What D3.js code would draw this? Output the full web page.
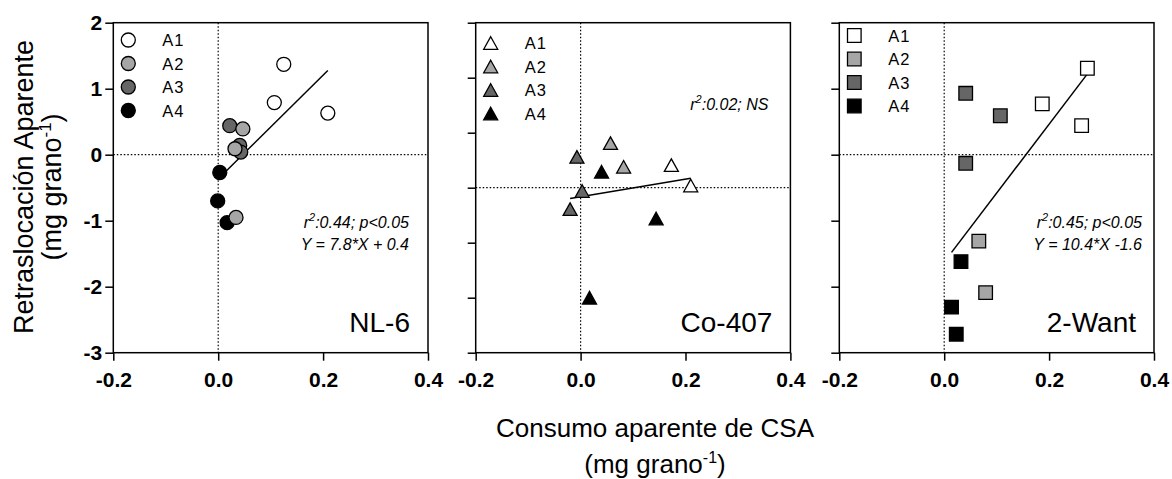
<!DOCTYPE html>
<html>
<head>
<meta charset="utf-8">
<script src="https://cdn.jsdelivr.net/npm/d3@7"></script>
<style>
  body { margin: 0; background: #fff; }
  text { font-family: "Liberation Sans", Arial, Helvetica, sans-serif; fill: #000; }
</style>
</head>
<body>
<svg id="chart" width="1172" height="479"></svg>
<script>
// ---- data -------------------------------------------------------------
const groups = ["A1", "A2", "A3", "A4"];
const panelNames = ["NL-6", "Co-407", "2-Want"];

const xTicks = [-0.2, 0.0, 0.2, 0.4];
const yTicks = [2, 1, 0, -1, -2, -3];
const co407YTicks = [3, 2, 1, 0, -1, -2, -3];

// NL-6
const nl6Group = ["A1", "A1", "A1", "A2", "A2", "A2", "A3", "A3", "A3", "A4", "A4", "A4"];
const nl6X = [0.125, 0.107, 0.209, 0.047, 0.032, 0.034, 0.022, 0.041, 0.043, 0.003, -0.001, 0.017];
const nl6Y = [1.37, 0.79, 0.63, 0.39, 0.09, -0.95, 0.44, 0.14, 0.04, -0.27, -0.70, -1.03];

// Co-407
const co407Group = ["A1", "A1", "A2", "A2", "A3", "A3", "A3", "A4", "A4", "A4"];
const co407X = [0.173, 0.210, 0.057, 0.082, -0.007, 0.003, -0.020, 0.040, 0.144, 0.017];
const co407Y = [0.41, 0.04, 0.81, 0.38, 0.56, -0.06, -0.39, 0.29, -0.56, -2.00];

// 2-Want
const want2Group = ["A1", "A1", "A1", "A2", "A2", "A3", "A3", "A3", "A4", "A4", "A4"];
const want2X = [0.273, 0.187, 0.262, 0.066, 0.079, 0.041, 0.107, 0.041, 0.032, 0.014, 0.023];
const want2Y = [1.31, 0.77, 0.44, -1.31, -2.09, 0.93, 0.59, -0.13, -1.62, -2.31, -2.72];

// regression statistics printed in each panel
const statR2 = [":0.44; p<0.05", ":0.02; NS", ":0.45; p<0.05"];
const statEq = ["Y = 7.8*X + 0.4", "", "Y = 10.4*X -1.6"];

// ---- styling / layout -------------------------------------------------
const groupFill = { A1: "#ffffff", A2: "#a6a6a6", A3: "#666666", A4: "#000000" };
const markerPath = {
  circle: d3.symbol(d3.symbolCircle, Math.PI * 49)(),
  triangle: "M0,-6.3L7,6.3L-7,6.3Z",
  square: "M-6.8,-6.8H6.8V6.8H-6.8Z"
};

const frameTop = 22.7, frameBottom = 352.7, frameWidth = 314.7;
const panelLayout = [
  { left: 113.3, shape: "circle",   yDomain: [-3, 2], yTicks: yTicks, labels: true,
    legendTop: 40, statRight: 19, statY: 228, group: nl6Group, xs: nl6X, ys: nl6Y },
  { left: 475.7, shape: "triangle", yDomain: [-3, 3], yTicks: co407YTicks, labels: false,
    legendTop: 43, statRight: 22, statY: 110, group: co407Group, xs: co407X, ys: co407Y },
  { left: 839.3, shape: "square",   yDomain: [-3, 2], yTicks: yTicks, labels: false,
    legendTop: 35.5, statRight: 12, statY: 228, group: want2Group, xs: want2X, ys: want2Y }
];

// least-squares line through a panel's points
function linearFit(xs, ys) {
  const mx = d3.mean(xs), my = d3.mean(ys);
  let sxy = 0, sxx = 0;
  xs.forEach((x, i) => { sxy += (x - mx) * (ys[i] - my); sxx += (x - mx) * (x - mx); });
  const slope = sxy / sxx;
  return { slope, intercept: my - slope * mx, x0: d3.min(xs), x1: d3.max(xs) };
}

const svg = d3.select("#chart");

panelLayout.forEach((p, pi) => {
  const x = d3.scaleLinear().domain([-0.2, 0.4]).range([p.left, p.left + frameWidth]);
  const y = d3.scaleLinear().domain(p.yDomain).range([frameBottom, frameTop]);
  const g = svg.append("g");

  // reference lines at zero
  g.append("line")
    .attr("x1", x(0)).attr("x2", x(0)).attr("y1", frameTop).attr("y2", frameBottom)
    .attr("stroke", "#000").attr("stroke-width", 1.2).attr("stroke-dasharray", "1.5,2");
  g.append("line")
    .attr("x1", p.left).attr("x2", p.left + frameWidth).attr("y1", y(0)).attr("y2", y(0))
    .attr("stroke", "#000").attr("stroke-width", 1.2).attr("stroke-dasharray", "1.5,2");

  // axes
  const xAxis = d3.axisBottom(x).tickValues(xTicks).tickFormat(d3.format(".1f"))
    .tickSize(8).tickSizeOuter(0).tickPadding(11);
  const gx = g.append("g").attr("transform", `translate(0,${frameBottom})`).call(xAxis);
  gx.select(".domain").remove();
  gx.selectAll("line").attr("stroke-width", 1.5);
  gx.selectAll("text").attr("font-size", 21).attr("font-weight", "bold")
    .attr("font-family", '"Liberation Sans", Arial, sans-serif')
    .text(d => d3.format(".1f")(d).replace("−", "-"));

  const yAxis = d3.axisLeft(y).tickValues(p.yTicks).tickSize(8).tickSizeOuter(0).tickPadding(3)
    .tickFormat(p.labels ? (d => String(d)) : () => "");
  const gy = g.append("g").attr("transform", `translate(${p.left},0)`).call(yAxis);
  gy.select(".domain").remove();
  gy.selectAll("line").attr("stroke-width", 1.5);
  gy.selectAll("text").attr("font-size", 21).attr("font-weight", "bold")
    .attr("font-family", '"Liberation Sans", Arial, sans-serif');

  // frame
  g.append("rect")
    .attr("x", p.left).attr("y", frameTop)
    .attr("width", frameWidth).attr("height", frameBottom - frameTop)
    .attr("fill", "none").attr("stroke", "#000").attr("stroke-width", 1.5);

  // regression line
  const f = linearFit(p.xs, p.ys);
  g.append("line")
    .attr("x1", x(f.x0)).attr("y1", y(f.slope * f.x0 + f.intercept))
    .attr("x2", x(f.x1)).attr("y2", y(f.slope * f.x1 + f.intercept))
    .attr("stroke", "#000").attr("stroke-width", 1.5);

  // points (later groups underneath)
  const pts = p.xs.map((v, i) => ({ x: v, y: p.ys[i], group: p.group[i] }))
    .sort((a, b) => groups.indexOf(b.group) - groups.indexOf(a.group));
  g.selectAll("path.pt").data(pts).join("path")
    .attr("class", "pt")
    .attr("d", markerPath[p.shape])
    .attr("transform", d => `translate(${x(d.x)},${y(d.y)})`)
    .attr("fill", d => groupFill[d.group])
    .attr("stroke", "#000").attr("stroke-width", 1.3);

  // legend
  const lg = g.append("g").attr("transform", `translate(${p.left},${p.legendTop})`);
  groups.forEach((grp, i) => {
    lg.append("path").attr("d", markerPath[p.shape])
      .attr("transform", `translate(15,${i * 23.5})`)
      .attr("fill", groupFill[grp]).attr("stroke", "#000").attr("stroke-width", 1.3);
    lg.append("text").attr("x", 49).attr("y", i * 23.5 + 6)
      .attr("font-size", 16.5).attr("letter-spacing", 1).text(grp);
  });

  // statistics
  const right = p.left + frameWidth - p.statRight;
  const t1 = g.append("text").attr("x", right).attr("y", p.statY)
    .attr("text-anchor", "end").attr("font-size", 16).attr("font-style", "italic");
  t1.append("tspan").text("r");
  t1.append("tspan").attr("dy", -7).attr("font-size", 11).text("2");
  t1.append("tspan").attr("dy", 7).text(statR2[pi]);
  if (statEq[pi]) {
    g.append("text").attr("x", right).attr("y", p.statY + 22)
      .attr("text-anchor", "end").attr("font-size", 16).attr("font-style", "italic")
      .text(statEq[pi]);
  }

  // panel name
  g.append("text").attr("x", p.left + frameWidth - 18).attr("y", frameBottom - 21)
    .attr("text-anchor", "end").attr("font-size", 28).text(panelNames[pi]);
});

// axis titles
const yt = svg.append("text").attr("transform", "translate(33,187) rotate(-90)")
  .attr("text-anchor", "middle").attr("font-size", 27);
yt.append("tspan").attr("x", 0).attr("y", 0).text("Retraslocación Aparente");
const yt2 = svg.append("text").attr("transform", "translate(61,187) rotate(-90)")
  .attr("text-anchor", "middle").attr("font-size", 27);
yt2.append("tspan").text("(mg grano");
yt2.append("tspan").attr("dy", -10).attr("font-size", 17).text("-1");
yt2.append("tspan").attr("dy", 10).text(")");

svg.append("text").attr("x", 655).attr("y", 437).attr("text-anchor", "middle")
  .attr("font-size", 26).text("Consumo aparente de CSA");
const xt2 = svg.append("text").attr("x", 655).attr("y", 473).attr("text-anchor", "middle")
  .attr("font-size", 26);
xt2.append("tspan").text("(mg grano");
xt2.append("tspan").attr("dy", -10).attr("font-size", 16).text("-1");
xt2.append("tspan").attr("dy", 10).text(")");
</script>
</body>
</html>
